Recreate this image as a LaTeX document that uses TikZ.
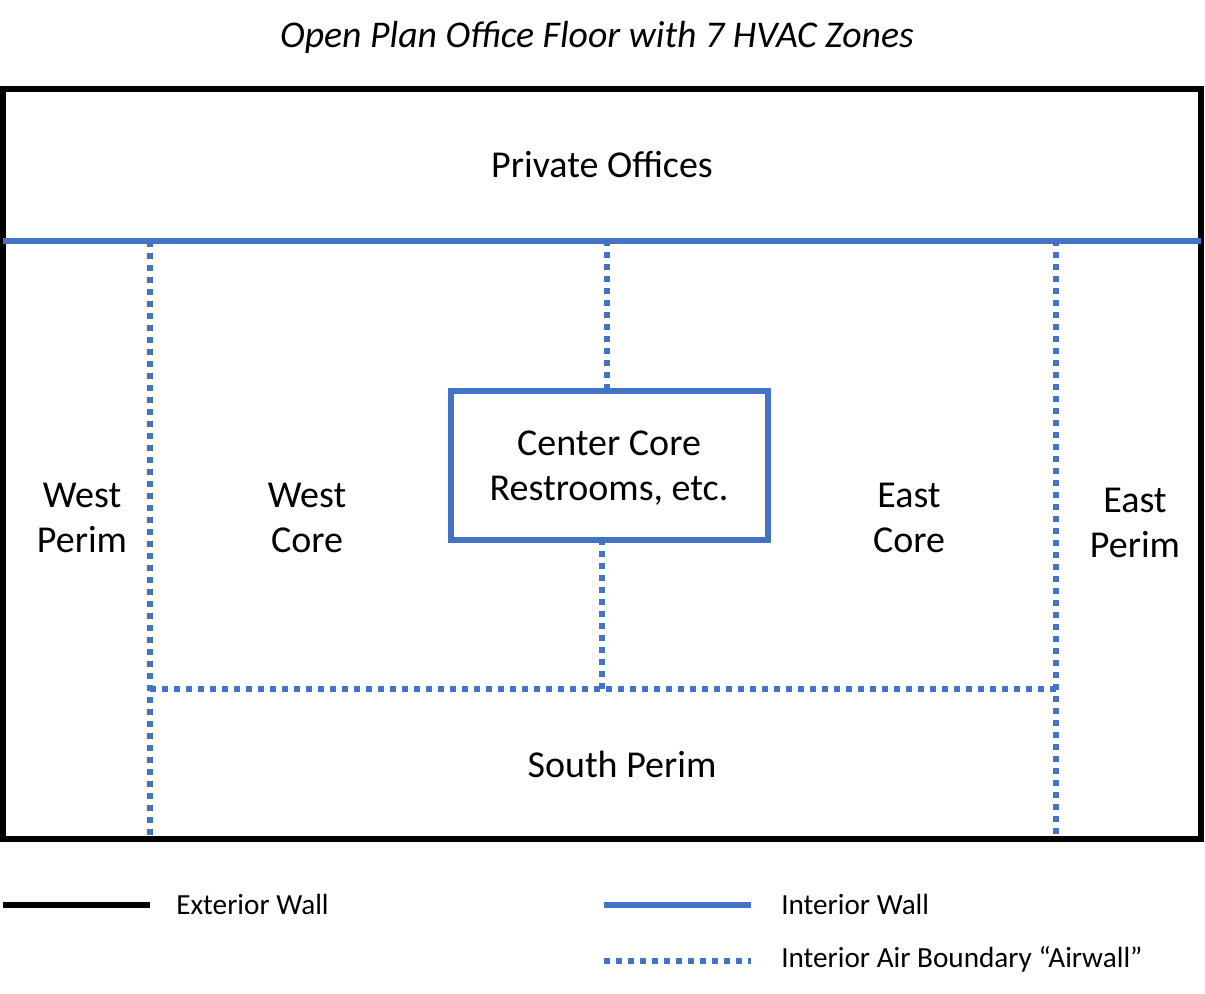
\documentclass[tikz,border=0pt]{standalone}
\usepackage{fontspec}
\setmainfont{Carlito}
\definecolor{wallblue}{HTML}{4472C4}
\tikzset{
  exterior/.style={draw=black,line width=4.5pt},
  interior/.style={draw=wallblue,line width=4.5pt},
  airwall/.style={draw=wallblue,line width=4.5pt,dash pattern=on 4.5pt off 4.5pt},
  zone/.style={font=\fontsize{28.5}{33.75}\selectfont,align=center,inner sep=0pt},
  legendtext/.style={font=\fontsize{21.9}{26}\selectfont,anchor=west,inner sep=0pt},
}
\begin{document}
\begin{tikzpicture}[x=0.75pt,y=-0.75pt]
\useasboundingbox (0,0) rectangle (1205,993);
\fill[white] (0,0) rectangle (1205,993);
\coordinate (wallL) at (3,241);
\coordinate (wallR) at (1201,241);
\coordinate (wA) at (150,241);
\coordinate (wB) at (607,240);
\coordinate (wC) at (1056,240);
\coordinate (bA) at (150,836);
\coordinate (bC) at (1056,836);
\coordinate (hA) at (150,689);
\coordinate (hC) at (1056,689);
\coordinate (hM) at (602,689);
\coordinate (coreTop) at (607,389);
\coordinate (coreBot) at (602,539);
\coordinate (lgA) at (3,905);
\coordinate (lgB) at (150,905);
\coordinate (lgC) at (604,905);
\coordinate (lgD) at (751,905);
\coordinate (lgE) at (604,961);
\coordinate (lgF) at (751,961);
% air walls
\draw[airwall] (wA) -- (bA);
\draw[airwall] (wC) -- (bC);
\draw[airwall] (wB) -- (coreTop);
\draw[airwall] (coreBot) -- (hM);
\draw[airwall] (hA) -- (hC);
% walls
\draw[exterior] (3,89) rectangle (1201,839);
\draw[interior] (wallL) -- (wallR);
\node[interior,fill=white,minimum width=237.75pt,minimum height=111.75pt,inner sep=0pt,outer sep=0pt,anchor=north west] (core) at (451,391) {};
% labels
\node[inner sep=0pt,font=\itshape\fontsize{28.3}{34}\selectfont] (title) at (597,37) {Open Plan Office Floor with 7 HVAC Zones};
\node[zone] (priv) at (602,164) {Private Offices};
\node[zone] (wp) at (82,518) {West\\Perim};
\node[zone] (wcore) at (307,518) {West\\Core};
\node[zone] (ctr) at (609,468) {Center Core\\Restrooms, etc.};
\node[zone] (ecore) at (909,518) {East\\Core};
\node[zone] (ep) at (1135,523) {East\\Perim};
\node[zone] (sp) at (622,764) {South Perim};
% legend
\draw[exterior] (lgA) -- (lgB);
\draw[interior] (lgC) -- (lgD);
\draw[airwall] (lgE) -- (lgF);
\node[legendtext] (l1) at (176,904) {Exterior Wall};
\node[legendtext] (l2) at (781,904) {Interior Wall};
\node[legendtext] (l3) at (781,959) {Interior Air Boundary “Airwall”};
\end{tikzpicture}
\end{document}
